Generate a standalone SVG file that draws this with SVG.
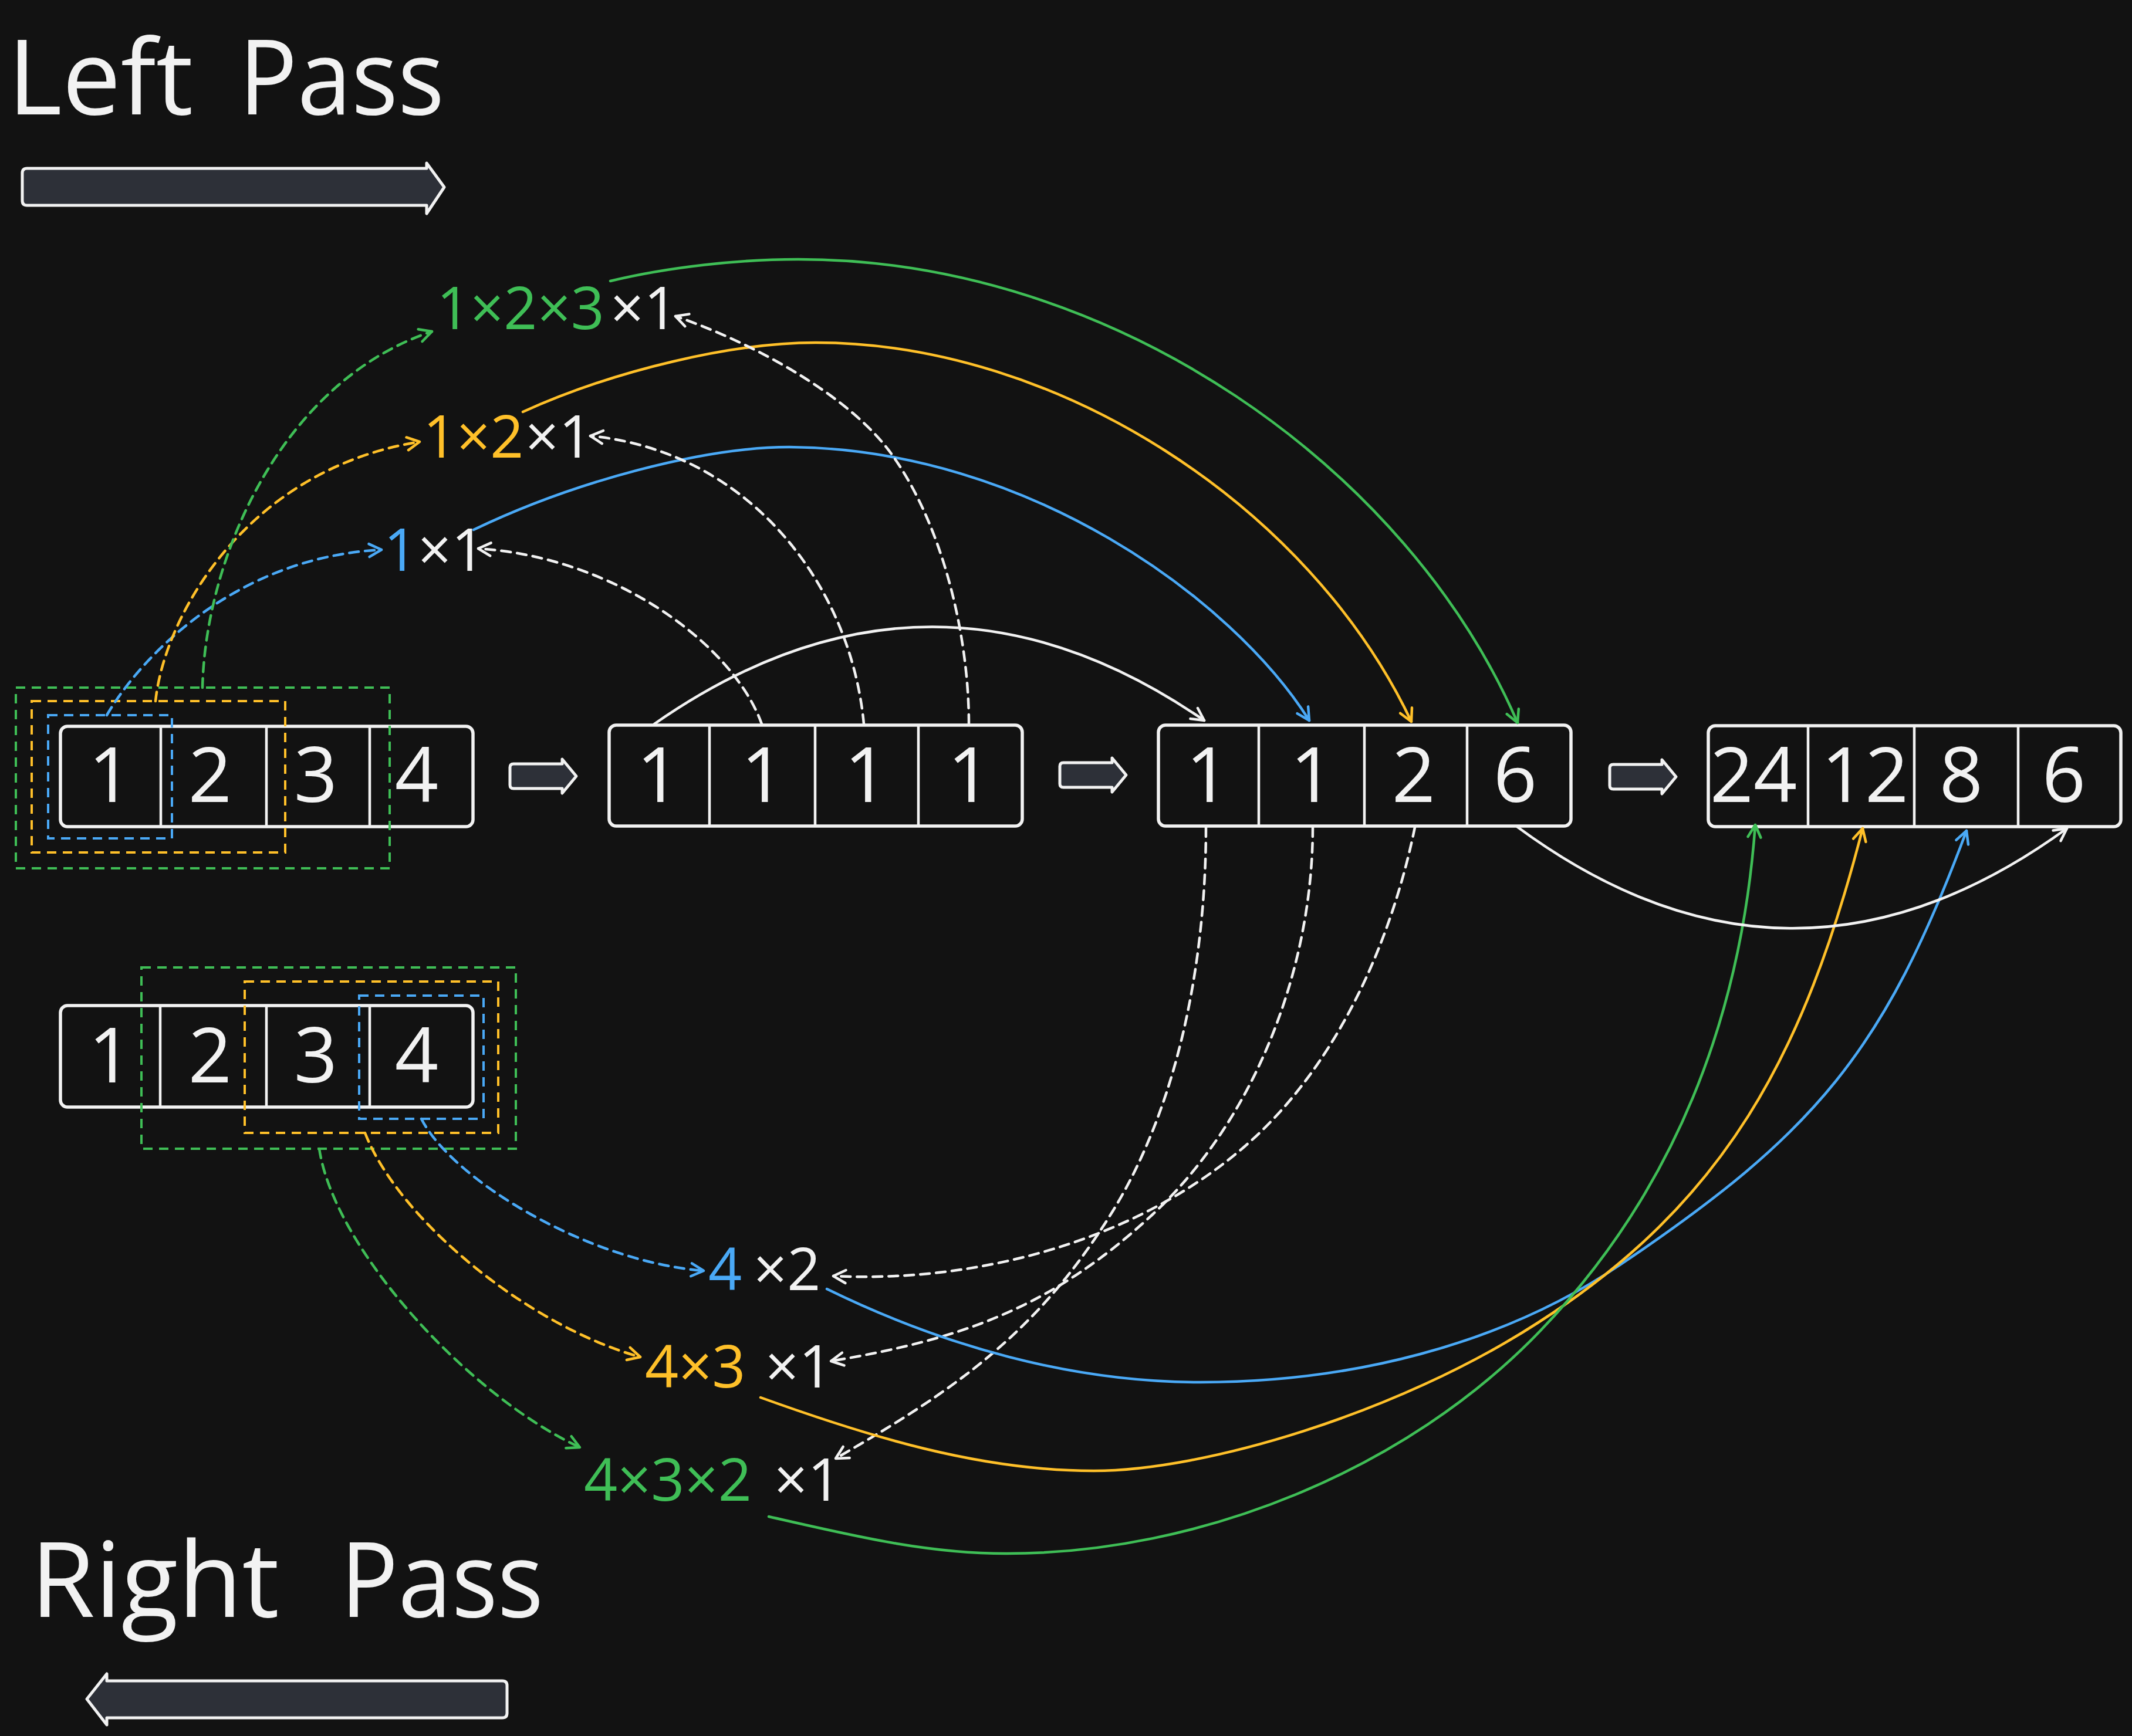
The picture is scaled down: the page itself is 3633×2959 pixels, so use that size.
<svg xmlns="http://www.w3.org/2000/svg" width="3633" height="2959" viewBox="0 0 3633 2959">
<style>
.txt{font-family:"Open Sans","Noto Sans","DejaVu Sans",sans-serif;}
.title{font-size:178px;fill:#f2f2f2;}
.digit{font-size:130px;fill:#f2f2f2;text-anchor:middle;}
.lbl{font-size:100px;}
.w{fill:#f2f2f2;} .g{fill:#3fbe56;} .y{fill:#ffc029;} .b{fill:#4aa9f6;}
.arr{fill:none;stroke:#f2f2f2;stroke-width:5.5;}
.div{stroke:#f2f2f2;stroke-width:4.5;}
.bigarrow{fill:#2d3038;stroke:#f2f2f2;stroke-width:5;stroke-linejoin:round;}
.drect{fill:none;stroke-width:4;stroke-dasharray:16 11;}
.con{fill:none;stroke-width:4.5;stroke-linecap:round;}
.dash{stroke-dasharray:16 11;}
.sw{stroke:#f2f2f2;} .sg{stroke:#3fbe56;} .sy{stroke:#ffc029;} .sb{stroke:#4aa9f6;}
</style>
<defs>
<marker id="mw" viewBox="-30 -20 40 40" refX="0" refY="0" markerWidth="40" markerHeight="40" markerUnits="userSpaceOnUse" orient="auto"><path d="M-21,-11 L0,0 L-21,11" fill="none" stroke="#f2f2f2" stroke-width="4.5" stroke-linecap="round" stroke-linejoin="round"/></marker>
<marker id="mg" viewBox="-30 -20 40 40" refX="0" refY="0" markerWidth="40" markerHeight="40" markerUnits="userSpaceOnUse" orient="auto"><path d="M-21,-11 L0,0 L-21,11" fill="none" stroke="#3fbe56" stroke-width="4.5" stroke-linecap="round" stroke-linejoin="round"/></marker>
<marker id="my" viewBox="-30 -20 40 40" refX="0" refY="0" markerWidth="40" markerHeight="40" markerUnits="userSpaceOnUse" orient="auto"><path d="M-21,-11 L0,0 L-21,11" fill="none" stroke="#ffc029" stroke-width="4.5" stroke-linecap="round" stroke-linejoin="round"/></marker>
<marker id="mb" viewBox="-30 -20 40 40" refX="0" refY="0" markerWidth="40" markerHeight="40" markerUnits="userSpaceOnUse" orient="auto"><path d="M-21,-11 L0,0 L-21,11" fill="none" stroke="#4aa9f6" stroke-width="4.5" stroke-linecap="round" stroke-linejoin="round"/></marker>
<path id="sarrow" class="bigarrow" d="M6,-21 L89,-21 L89,-29 L113,0 L89,29 L89,21 L6,21 Q0,21 0,15 L0,-15 Q0,-21 6,-21 Z"/>
</defs>
<rect x="0" y="0" width="3633" height="2959" fill="#121212"/>

<g id="title-left">
<text class="txt title" x="13" y="195">Left</text>
<text class="txt title" x="407" y="195" textLength="350" lengthAdjust="spacingAndGlyphs">Pass</text>
<path class="bigarrow" d="M46,287 L727,287 L727,278 L757,319 L727,364 L727,350 L46,350 Q38,350 38,342 L38,295 Q38,287 46,287 Z"/>
</g>

<g id="title-right">
<text class="txt title" x="52" y="2756">Right</text>
<text class="txt title" x="580" y="2756" textLength="346" lengthAdjust="spacingAndGlyphs">Pass</text>
<path class="bigarrow" d="M856,2865 Q864,2865 864,2873 L864,2920 Q864,2928 856,2928 L182,2928 L182,2940 L148,2896 L182,2853 L182,2865 Z"/>
</g>

<g id="array-input-left">
<rect class="arr" x="103" y="1238" width="703" height="171" rx="12"/>
<line class="div" x1="274" y1="1238" x2="274" y2="1409"/>
<line class="div" x1="454" y1="1238" x2="454" y2="1409"/>
<line class="div" x1="630" y1="1238" x2="630" y2="1409"/>
<text class="txt digit" x="188" y="1367">1</text>
<text class="txt digit" x="358" y="1367">2</text>
<text class="txt digit" x="538" y="1367">3</text>
<text class="txt digit" x="710" y="1367">4</text>
<rect class="drect sb" x="82" y="1219" width="211" height="210"/>
<rect class="drect sy" x="54" y="1195" width="432" height="258"/>
<rect class="drect sg" x="27" y="1172" width="637" height="308"/>
</g>

<g id="array-input-right">
<rect class="arr" x="103" y="1714" width="703" height="173" rx="12"/>
<line class="div" x1="273" y1="1714" x2="273" y2="1887"/>
<line class="div" x1="454" y1="1714" x2="454" y2="1887"/>
<line class="div" x1="630" y1="1714" x2="630" y2="1887"/>
<text class="txt digit" x="188" y="1845">1</text>
<text class="txt digit" x="358" y="1845">2</text>
<text class="txt digit" x="538" y="1845">3</text>
<text class="txt digit" x="710" y="1845">4</text>
<rect class="drect sg" x="241" y="1649" width="638" height="309"/>
<rect class="drect sy" x="417" y="1673" width="432" height="258"/>
<rect class="drect sb" x="612" y="1697" width="212" height="210"/>
</g>

<g id="step-arrow-1"><use href="#sarrow" x="869" y="1323"/></g>

<g id="array-ones">
<rect class="arr" x="1038" y="1236" width="704" height="172" rx="12"/>
<line class="div" x1="1209" y1="1236" x2="1209" y2="1408"/>
<line class="div" x1="1389" y1="1236" x2="1389" y2="1408"/>
<line class="div" x1="1565" y1="1236" x2="1565" y2="1408"/>
<text class="txt digit" x="1122" y="1367">1</text>
<text class="txt digit" x="1300" y="1367">1</text>
<text class="txt digit" x="1476" y="1367">1</text>
<text class="txt digit" x="1652" y="1367">1</text>
</g>

<g id="step-arrow-2"><use href="#sarrow" x="1806" y="1321"/></g>

<g id="array-left-pass">
<rect class="arr" x="1974" y="1236" width="703" height="172" rx="12"/>
<line class="div" x1="2145" y1="1236" x2="2145" y2="1408"/>
<line class="div" x1="2325" y1="1236" x2="2325" y2="1408"/>
<line class="div" x1="2500" y1="1236" x2="2500" y2="1408"/>
<text class="txt digit" x="2058" y="1367">1</text>
<text class="txt digit" x="2236" y="1367">1</text>
<text class="txt digit" x="2409" y="1367">2</text>
<text class="txt digit" x="2582" y="1367">6</text>
</g>

<g id="step-arrow-3"><use href="#sarrow" x="2743" y="1324"/></g>

<g id="array-result">
<rect class="arr" x="2911" y="1237" width="703" height="172" rx="12"/>
<line class="div" x1="3081" y1="1237" x2="3081" y2="1409"/>
<line class="div" x1="3262" y1="1237" x2="3262" y2="1409"/>
<line class="div" x1="3439" y1="1237" x2="3439" y2="1409"/>
<text class="txt digit" x="2988" y="1367">24</text>
<text class="txt digit" x="3178" y="1367">12</text>
<text class="txt digit" x="3342" y="1367">8</text>
<text class="txt digit" x="3517" y="1367">6</text>
</g>

<g id="label-l3">
<text class="txt lbl" y="561"><tspan class="g" x="744">1×2×3</tspan><tspan class="w" x="1040">×1</tspan></text>
</g>
<g id="label-l2">
<text class="txt lbl" y="780"><tspan class="y" x="721">1×2</tspan><tspan class="w" x="895">×1</tspan></text>
</g>
<g id="label-l1">
<text class="txt lbl" y="973"><tspan class="b" x="654">1</tspan><tspan class="w" x="712">×1</tspan></text>
</g>
<g id="label-r1">
<text class="txt lbl" y="2199"><tspan class="b" x="1207">4</tspan><tspan class="w" x="1284">×2</tspan></text>
</g>
<g id="label-r2">
<text class="txt lbl" y="2365"><tspan class="y" x="1099">4×3</tspan><tspan class="w" x="1304">×1</tspan></text>
</g>
<g id="label-r3">
<text class="txt lbl" y="2558"><tspan class="g" x="995">4×3×2</tspan><tspan class="w" x="1319">×1</tspan></text>
</g>

<g id="connectors">
<path class="con sw" marker-end="url(#mw)" d="M1115,1234 Q1585,906 2052,1228"/>
<path class="con sb" marker-end="url(#mb)" d="M807,903 C980,820 1200,762 1345,762 C1750,765 2100,1020 2231,1228"/>
<path class="con sy" marker-end="url(#my)" d="M891,702 C1050,630 1250,584 1390,584 C1800,584 2230,860 2405,1230"/>
<path class="con sg" marker-end="url(#mg)" d="M1040,479 C1140,455 1260,442 1360,442 C1900,442 2400,800 2586,1232"/>
<path class="con sw dash" marker-end="url(#mw)" d="M1298,1234 C1250,1100 1050,950 815,935"/>
<path class="con sw dash" marker-end="url(#mw)" d="M1472,1234 C1450,1000 1280,770 1006,743"/>
<path class="con sw dash" marker-end="url(#mw)" d="M1651,1234 C1651,1084 1607,897 1520,775 C1445,670 1274,581 1151,539"/>
<path class="con sb dash" marker-end="url(#mb)" d="M182,1219 C240,1120 400,950 650,937"/>
<path class="con sy dash" marker-end="url(#my)" d="M265,1195 C280,1050 420,800 715,753"/>
<path class="con sg dash" marker-end="url(#mg)" d="M345,1172 C350,950 480,650 736,565"/>
<path class="con sb dash" marker-end="url(#mb)" d="M718,1907 C770,2010 1000,2150 1199,2166"/>
<path class="con sy dash" marker-end="url(#my)" d="M622,1931 C680,2080 900,2260 1091,2313"/>
<path class="con sg dash" marker-end="url(#mg)" d="M544,1958 C570,2130 800,2380 988,2467"/>
<path class="con sw dash" marker-end="url(#mw)" d="M2055,1410 C2055,1630 2011,1876 1897,2063 C1767,2275 1623,2371 1424,2486"/>
<path class="con sw dash" marker-end="url(#mw)" d="M2237,1410 C2237,1650 2139,1908 1963,2071 C1794,2227 1643,2282 1416,2320"/>
<path class="con sw dash" marker-end="url(#mw)" d="M2411,1410 C2371,1606 2278,1814 2129,1947 C1943,2113 1670,2187 1420,2175"/>
<path class="con sb" marker-end="url(#mb)" d="M1409,2197 C1607,2294 1826,2356 2046,2356 C2296,2356 2555,2295 2762,2155 C3094,1931 3211,1792 3351,1416"/>
<path class="con sy" marker-end="url(#my)" d="M1296,2382 C1479,2448 1669,2507 1864,2507 C2050,2507 2380,2410 2620,2255 C2939,2050 3074,1800 3174,1412"/>
<path class="con sg" marker-end="url(#mg)" d="M1310,2585 C1447,2616 1575,2648 1715,2648 C2045,2648 2397,2506 2625,2268 C2853,2030 2967,1735 2991,1406"/>
<path class="con sw" marker-end="url(#mw)" d="M2585,1409 Q3052,1754 3522,1412"/>
</g>
</svg>
